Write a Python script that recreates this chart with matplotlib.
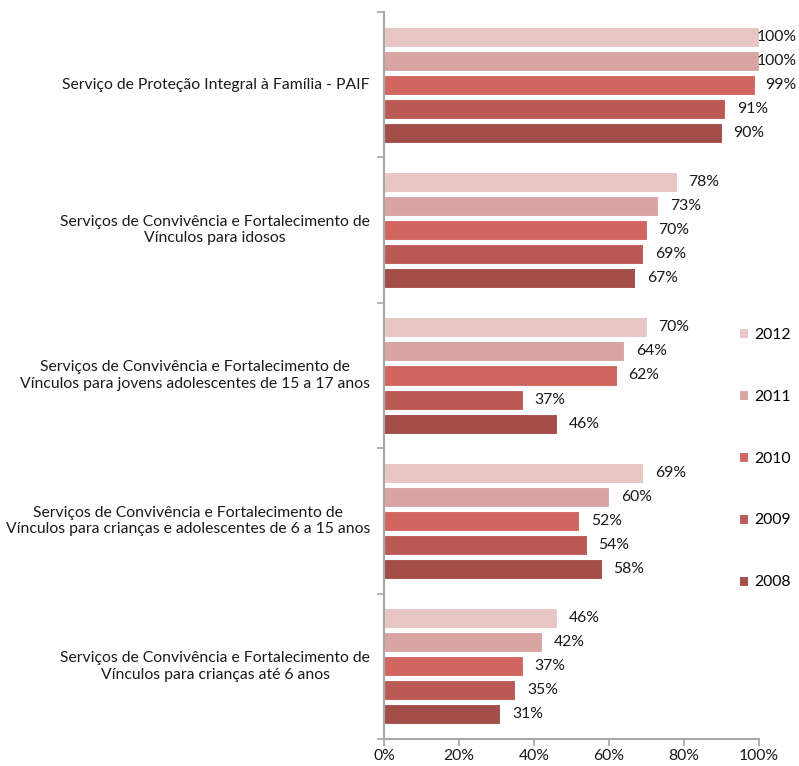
"""
horizontal grouped bars: share of municipalities offering each service, 2008-2012
"""
import numpy as np
import matplotlib.pyplot as plt

plt.rcParams["font.family"] = ["Lato", "DejaVu Sans"]

categories = [
    "Serviço de Proteção Integral à Família - PAIF",
    "Serviços de Convivência e Fortalecimento de\nVínculos para idosos",
    "Serviços de Convivência e Fortalecimento de\nVínculos para jovens adolescentes de 15 a 17 anos",
    "Serviços de Convivência e Fortalecimento de\nVínculos para crianças e adolescentes de 6 a 15 anos",
    "Serviços de Convivência e Fortalecimento de\nVínculos para crianças até 6 anos",
]
years = ["2012", "2011", "2010", "2009", "2008"]
v2012 = [100, 78, 70, 69, 46]
v2011 = [100, 73, 64, 60, 42]
v2010 = [99, 70, 62, 52, 37]
v2009 = [91, 69, 37, 54, 35]
v2008 = [90, 67, 46, 58, 31]
values = [v2012, v2011, v2010, v2009, v2008]
colors = ["#E8C6C4", "#D9A5A2", "#D0665F", "#BB5A55", "#A24D48"]

fs = 11.3
fig = plt.figure(figsize=(7.99, 7.66), dpi=100)
ax = fig.add_axes([384 / 799, 1 - 739 / 766, 375 / 799, 727 / 766])

step = 24 / 145
height = 20 / 145
y0 = np.arange(len(categories))
bars = []
for i, (yr, vals, c) in enumerate(zip(years, values, colors)):
    y = y0 + (i - 2) * step
    x = np.array(vals) / 100
    b = ax.barh(y, x, height=height, color=c, edgecolor="white", linewidth=0.8, label=yr)
    bars.append(b)
    for xi, yi, v in zip(x, y, vals):
        if xi > 0.96:
            ax.text(1.101, yi, "{}%".format(v), ha="right", va="center",
                    fontsize=fs, color="#1a1a1a", clip_on=False)
        else:
            ax.annotate("{}%".format(v), (xi, yi), xytext=(12, 0), textcoords="offset pixels",
                        ha="left", va="center", fontsize=fs, color="#1a1a1a")

ax.set_xlim(0, 1)
ax.set_ylim(len(categories) - 0.5, -0.5)
ax.set_xticks(np.linspace(0, 1, 6))
ax.set_xticklabels(["0%", "20%", "40%", "60%", "80%", "100%"], fontsize=fs, color="#1a1a1a")
ax.set_yticks(np.arange(-0.5, len(categories), 1))
ax.set_yticklabels([])
ax.tick_params(axis="both", color="#A6A6A6", length=5, width=1.2)
ax.tick_params(axis="x", pad=2)
for s in ["top", "right"]:
    ax.spines[s].set_visible(False)
for s in ["left", "bottom"]:
    ax.spines[s].set_color("#A6A6A6")
    ax.spines[s].set_linewidth(1.5)

for yi, cat in zip(y0, categories):
    ax.text(-14 / 375, yi, cat, transform=ax.get_yaxis_transform(), ha="right", va="center",
            multialignment="center", fontsize=fs, color="#1a1a1a", linespacing=1.25)

fig.legend(handles=bars, labels=years, loc="upper left", bbox_to_anchor=(731 / 799, 1 - 320 / 766),
           frameon=False, borderpad=0, handlelength=0.6, handleheight=0.6, handletextpad=0.4,
           labelspacing=3.05, fontsize=fs)

fig.savefig("out.png", dpi=100)
